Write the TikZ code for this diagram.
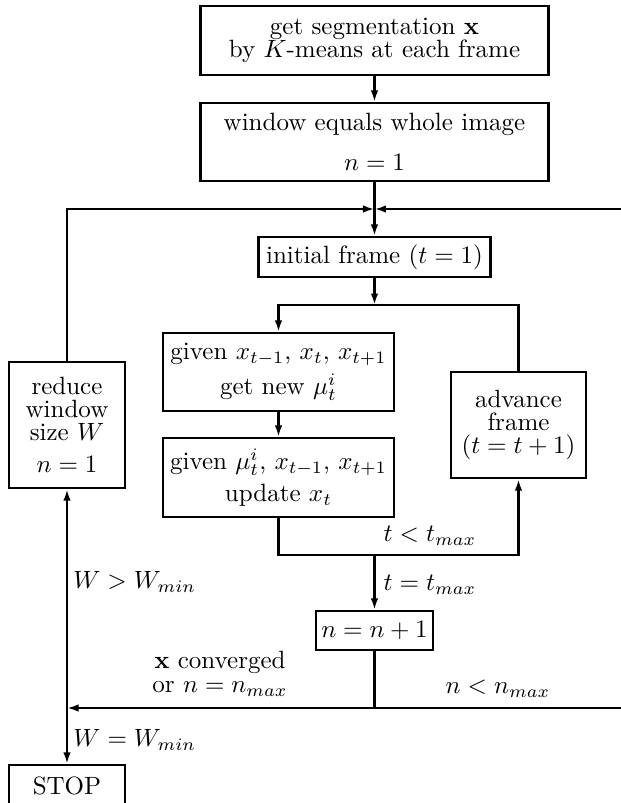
\documentclass[tikz,border=0pt]{standalone}
\usepackage{amsmath,amssymb}
\usepackage{tikz}
\usetikzlibrary{arrows.meta}

\tikzset{
  box/.style={draw, line width=0.9pt, align=center, inner sep=0pt,
    font=\fontsize{10pt}{9.2pt}\selectfont},
  lbl/.style={align=center, inner sep=0pt,
    font=\fontsize{10pt}{9.6pt}\selectfont},
  flow/.style={line width=0.9pt},
}

\begin{document}
\begin{tikzpicture}[x=0.4pt, y=-0.4pt, >={Latex[length=4.6pt,width=3pt]}]
\newcommand{\Midx}{374.5} % main column
\newcommand{\Innx}{278.5} % inner loop, left side
\newcommand{\Advx}{518.5} % inner loop, right side
\newcommand{\Redx}{67}    % outer loop, left side
\newcommand{\Outx}{630}   % outer loop, right side (off the page)

\useasboundingbox (0,0) rectangle (621,803);

% boxes of the main column
\node[box, minimum width=139.2pt, minimum height=27.6pt] (seg) at (\Midx,40.5)
  {get segmentation $\mathbf{x}$\\ by $K$-means at each frame};
\node[box, minimum width=139.2pt, minimum height=31.2pt] (whole) at (\Midx,142)
  {window equals whole image\\[6.8pt] $n = 1$};
\node[box, minimum width=92.8pt, minimum height=16pt] (init) at (\Midx,257)
  {initial frame $(t = 1)$};
\node[box, minimum width=46.8pt, minimum height=15.6pt] (incr) at (\Midx,630.5)
  {$n = n + 1$};

% inner loop over frames
\node[box, minimum width=92.4pt, minimum height=31.2pt] (given1) at (\Innx,372)
  {given $x_{t-1}$, $x_t$, $x_{t+1}$\\[2.5pt] get new $\mu_t^i$};
\node[box, minimum width=92.4pt, minimum height=31.6pt] (given2) at (\Innx,477.5)
  {given $\mu_t^i$, $x_{t-1}$, $x_{t+1}$\\[2.5pt] update $x_t$};
\node[box, minimum width=54pt, minimum height=42.4pt] (advance) at (\Advx,425)
  {advance\\ frame\\ $(t = t + 1)$};

% outer loop over window sizes
\node[box, minimum width=46.4pt, minimum height=50.4pt] (reduce) at (\Redx,425)
  {reduce\\ window\\ size $W$\\[3.6pt] $n = 1$};
\node[box, minimum width=46.4pt, minimum height=16.4pt] (stop) at (\Redx,785.5)
  {STOP};

% junctions
\coordinate (Jtop) at (\Midx,209);
\coordinate (Jin)  at (\Midx,305);
\coordinate (Jt)   at (\Midx,555);
\coordinate (Jn)   at (\Midx,708);
\coordinate (Wk)   at (\Redx,708);
\coordinate (OutB) at (\Outx,708);

% main column
\draw[->, flow] (seg) -- (whole);
\draw[flow] (whole) -- (Jtop);
\draw[->, flow] (Jtop) -- (init);
\draw[->, flow] (init) -- (Jin);

% inner loop
\draw[->, flow] (Jin) -| (given1.north);
\draw[->, flow] (given1) -- (given2);
\draw[->, flow] (given2.south) |- (Jt) -| (advance.south);
\draw[flow] (advance.north) |- (Jin);
\draw[->, flow] (Jt) -- (incr);
\draw[flow] (incr) -- (Jn);

% outer loop
\draw[->, flow] (OutB) -- (Wk);
\draw[->, flow] (Jn) -- (OutB) |- (Jtop);
\draw[->, flow] (reduce.north) |- (Jtop);
\draw[->, flow] (Wk) -- (reduce);
\draw[->, flow] (Wk) -- (stop);

% conditions
\node[lbl] (tlt) at (430,536) {$t < t_{max}$};
\node[lbl] (teq) at (430,585) {$t = t_{max}$};
\node[lbl] (conv) at (220,674) {$\mathbf{x}$ converged\\ or $n = n_{max}$};
\node[lbl] (nlt) at (498,689) {$n < n_{max}$};
\node[lbl, anchor=west] (wgt) at (73,582) {$W > W_{min}$};
\node[lbl, anchor=west] (weq) at (73,740) {$W = W_{min}$};
\end{tikzpicture}
\end{document}
